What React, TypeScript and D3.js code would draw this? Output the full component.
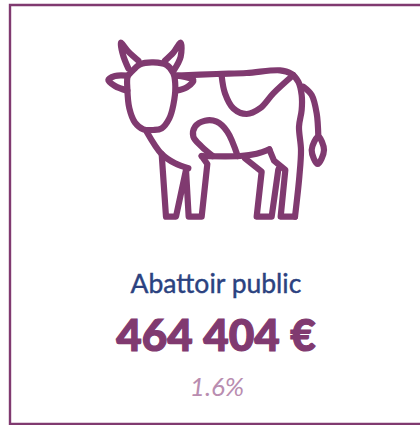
import React from "react";
import * as d3 from "d3";

type Pt = [number, number];

const label = "Abattoir public";
const amount = "464 404 €";
const share = "1.6%";

const PURPLE = "#803a70";
const BLUE = "#2b4280";
const LIGHT = "#b98db0";

// cow pictogram, traced in a 750x600 box
const head: Pt[] = [[125, 125], [150, 103], [190, 97], [230, 105], [250, 130], [256, 170], [250, 225], [238, 265], [215, 295], [190, 300], [160, 298], [135, 278], [118, 235], [112, 175], [113, 140]];
const tuft: Pt[] = [[685, 320], [702, 360], [683, 402], [665, 360]];

const curved: Pt[][] = [
  // back and rear leg outer edge
  [[262, 137], [380, 132], [470, 129], [570, 121], [602, 130], [625, 155], [635, 195], [635, 240], [627, 290], [633, 360], [628, 440], [615, 560]],
  // body spot
  [[395, 138], [405, 190], [430, 235], [470, 252], [510, 235], [550, 190], [610, 135]],
  // haunch
  [[443, 378], [412, 305], [380, 275], [345, 272], [315, 290], [310, 320], [335, 350], [368, 378]],
  // belly
  [[335, 378], [450, 378], [500, 371], [538, 358]],
  // chest
  [[170, 305], [215, 372], [255, 400], [295, 415]],
  // tail
  [[640, 170], [665, 195], [680, 250], [685, 320]],
  // ears
  [[112, 137], [75, 138], [55, 150], [75, 168], [112, 182]],
  [[258, 182], [290, 172], [310, 150], [262, 137]],
  // horns
  [[115, 115], [100, 78], [92, 38], [115, 65], [145, 92]],
  [[225, 92], [250, 68], [272, 38], [272, 80], [252, 120]],
];

const straight: Pt[][] = [
  [[215, 372], [228, 560], [258, 560], [288, 420], [296, 560], [335, 560], [352, 402], [335, 378]],
  [[465, 385], [515, 425], [500, 560], [545, 560], [565, 418]],
  [[538, 358], [552, 392], [586, 420], [572, 560], [615, 560]],
];

const xIcon = d3.scaleLinear().domain([0, 750]).range([90, 340]);
const yIcon = d3.scaleLinear().domain([0, 600]).range([30, 230]);

const lineSmooth = d3.line<Pt>().x((d) => xIcon(d[0])).y((d) => yIcon(d[1])).curve(d3.curveCatmullRom.alpha(0.5));
const lineClosed = d3.line<Pt>().x((d) => xIcon(d[0])).y((d) => yIcon(d[1])).curve(d3.curveCatmullRomClosed.alpha(0.5));
const lineFlat = d3.line<Pt>().x((d) => xIcon(d[0])).y((d) => yIcon(d[1]));

export default function App() {
  return (
    <svg
      width={420}
      height={425}
      style={{ position: "fixed", left: 0, top: 0 }}
      fontFamily="Lato, sans-serif"
    >
      <rect x={0} y={0} width={420} height={425} fill="#fff" />
      <path d="M10,425V5H420M10,424H420" fill="none" stroke={PURPLE} strokeWidth={2.4} />
      <g fill="none" stroke={PURPLE} strokeWidth={6.2} strokeLinecap="round" strokeLinejoin="round">
        {curved.map((d, i) => (
          <path key={i} d={lineSmooth(d) ?? ""} />
        ))}
        {straight.map((d, i) => (
          <path key={i} d={lineFlat(d) ?? ""} />
        ))}
        <path d={lineClosed(head) ?? ""} />
        <path d={lineClosed(tuft) ?? ""} />
      </g>
      <g textAnchor="middle">
        <text x={216} y={293} fontSize={26.5} fill={BLUE} stroke={BLUE} strokeWidth={0.4}>{label}</text>
        <text x={216} y={351} fontSize={44} fontWeight={900} fill={PURPLE} stroke={PURPLE} strokeWidth={1.2}>{amount}</text>
        <text x={217} y={396} fontSize={26} fontStyle="italic" fill={LIGHT}>{share}</text>
      </g>
    </svg>
  );
}
